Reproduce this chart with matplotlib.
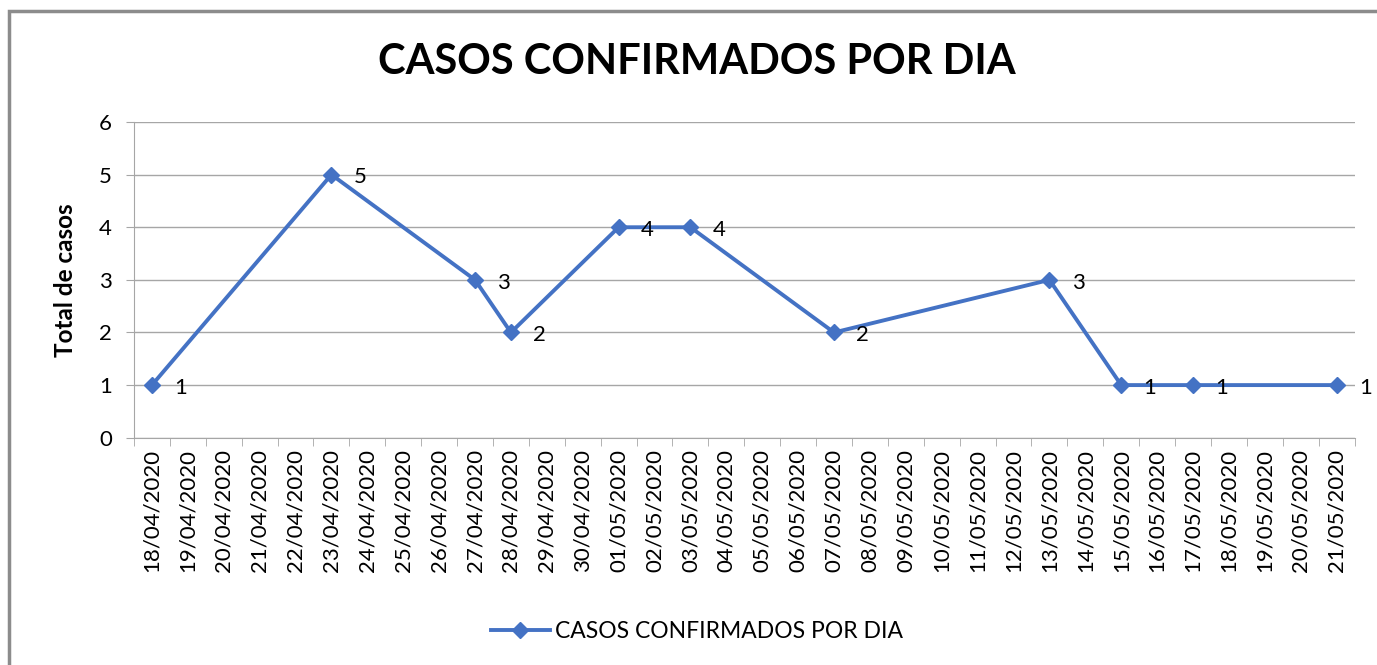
import numpy as np
import pandas as pd
from matplotlib import pyplot as plt
from matplotlib.patches import Rectangle

plt.rcParams['font.family'] = ['Lato', 'DejaVu Sans']

# all days on the category axis
days = pd.date_range('2020-04-18', '2020-05-21').strftime('%d/%m/%Y').tolist()

# days with reported cases
case_days = ['18/04/2020', '23/04/2020', '27/04/2020', '28/04/2020', '01/05/2020',
             '03/05/2020', '07/05/2020', '13/05/2020', '15/05/2020', '17/05/2020',
             '21/05/2020']
cases = [1, 5, 3, 2, 4, 4, 2, 3, 1, 1, 1]

blue = '#4472C4'
grey = '#a6a6a6'

fig = plt.figure(figsize=(13.77, 6.65), dpi=100)
ax = fig.add_axes([0.0973, 0.3418, 0.8864, 0.4747])

xpos = [days.index(d) for d in case_days]
ax.plot(xpos, cases, color=blue, lw=2.8, marker='D', ms=8, label='CASOS CONFIRMADOS POR DIA')

for x, y in zip(xpos, cases):
    ax.annotate(str(y), (x, y), xytext=(16, -2), textcoords='offset points',
                ha='left', va='center', fontsize=16)

ax.set_xlim(-0.5, len(days) - 0.5)
ax.set_ylim(0, 6)
ax.set_yticks(range(7))
ax.tick_params(axis='y', labelsize=16, length=6, color=grey, pad=10)

# labels at day centres, ticks at boundaries
ax.set_xticks(range(len(days)))
ax.set_xticklabels(days, rotation=90, fontsize=16)
ax.set_xticks(np.arange(-0.5, len(days), 1), minor=True)
ax.tick_params(axis='x', which='major', length=0, pad=8)
ax.tick_params(axis='x', which='minor', length=6, color=grey)

ax.grid(axis='y', color=grey, lw=1)
ax.set_axisbelow(True)
for s in ['top', 'right']:
    ax.spines[s].set_visible(False)
ax.spines['left'].set_color(grey)
ax.spines['bottom'].set_color(grey)

ax.set_ylabel('Total de casos', fontsize=17.5, fontweight='bold', labelpad=16)

fig.text(0.506, 0.907, 'CASOS CONFIRMADOS POR DIA', ha='center', va='center',
         fontsize=30, fontweight='bold')

fig.legend(loc='center', bbox_to_anchor=(0.506, 0.05), frameon=False, fontsize=16.5,
           handlelength=2.6, handletextpad=0.2)

fig.add_artist(Rectangle((9 / 1377, -0.1), 1.2, 1.1 - 11 / 665 + 0.0, transform=fig.transFigure,
                         fill=False, edgecolor='#8c8c8c', lw=2.5))

plt.savefig('out.png', dpi=100)
